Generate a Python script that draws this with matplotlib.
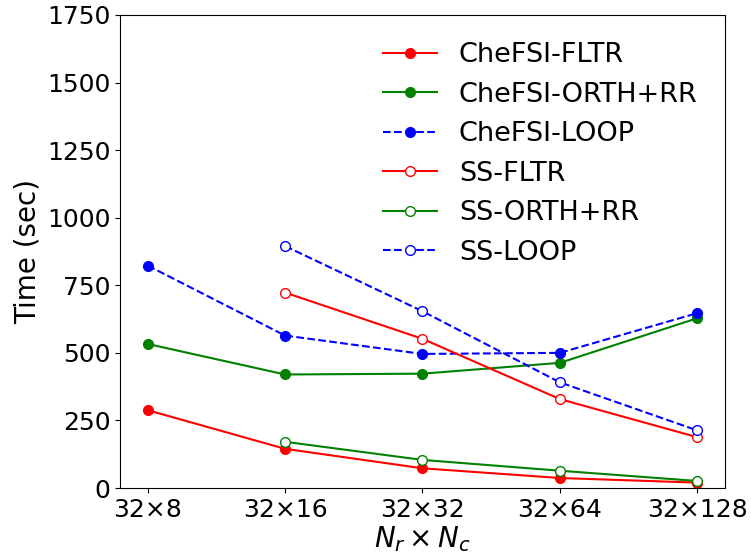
import numpy as np
import matplotlib
matplotlib.use("Agg")
import matplotlib.pyplot as plt

# grid sizes
grids = ["32\u00d78", "32\u00d716", "32\u00d732", "32\u00d764", "32\u00d7128"]

# CheFSI timings (sec)
chefsi_fltr = [288, 145, 73, 37, 20]
chefsi_orth = [533, 420, 423, 463, 628]
chefsi_loop = [823, 564, 496, 500, 647]

# SS timings (sec), no run for 32x8
ss_fltr = [np.nan, 723, 552, 329, 188]
ss_orth = [np.nan, 171, 104, 64, 26]
ss_loop = [np.nan, 895, 654, 391, 213]

x = np.arange(len(grids))

fig = plt.figure(figsize=(7.51, 5.53), dpi=100)
ax = fig.add_axes([0.16, 0.1175, 0.805, 0.8555])

ms = 7
ax.plot(x, chefsi_fltr, 'o-', color='red', lw=1.5, ms=ms, label='CheFSI-FLTR')
ax.plot(x, chefsi_orth, 'o-', color='green', lw=1.5, ms=ms, label='CheFSI-ORTH+RR')
ax.plot(x, chefsi_loop, 'o--', color='blue', lw=1.5, ms=ms, label='CheFSI-LOOP')
ax.plot(x, ss_fltr, 'o-', color='red', lw=1.5, ms=ms, mfc='white', label='SS-FLTR')
ax.plot(x, ss_orth, 'o-', color='green', lw=1.5, ms=ms, mfc='white', label='SS-ORTH+RR')
ax.plot(x, ss_loop, 'o--', color='blue', lw=1.5, ms=ms, mfc='white', label='SS-LOOP')

ax.set_xticks(x)
ax.set_xticklabels(grids)
ax.set_ylim(0, 1750)
ax.set_yticks(np.arange(0, 1751, 250))
ax.tick_params(labelsize=18)
ax.set_xlabel(r'$N_r \times N_c$', fontsize=20, labelpad=2)
ax.set_ylabel('Time (sec)', fontsize=20)
ax.legend(fontsize=19.5, frameon=False, loc='upper right', labelspacing=0.5,
          borderaxespad=0.6)

fig.savefig('out.png', dpi=100)
